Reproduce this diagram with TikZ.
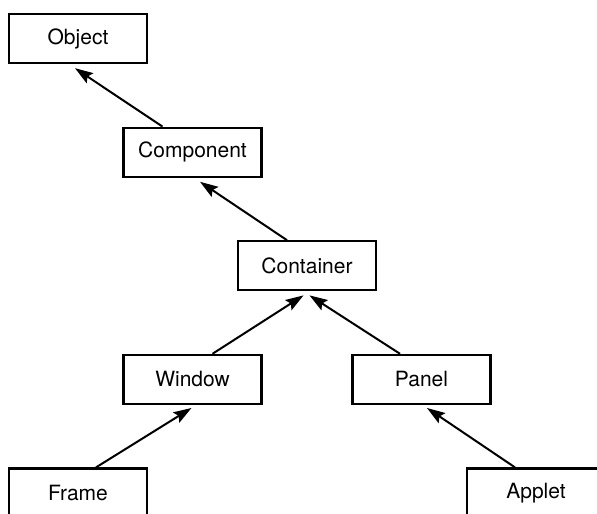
\documentclass[tikz,border=0pt]{standalone}
\usepackage{fontspec}
\setmainfont{TeX Gyre Heros}
\usepackage{tikz}
\usetikzlibrary{arrows.meta}
\tikzstyle{classbox}=[rectangle,draw=black,line width=2.2pt,fill=white,minimum width=138pt,minimum height=49pt,inner sep=0pt,font=\fontsize{21}{25}\selectfont]
\tikzstyle{edge} = [draw,line width=2pt,-{Stealth[length=18pt,width=12pt,inset=3pt]}]

\begin{document}
\begin{tikzpicture}[x=1pt,y=1pt]

  \def\dx{78};
  \def\dy{21};
  \def\u{114.5};
  \def\v{113.6};

  \useasboundingbox (0,0) rectangle (597,514);

   \foreach \x/\y/\name/\label in {0/4/object/Object, 1/3/component/Component, 2/2/container/Container}
          \node[classbox] (\name) at (\x*\u+\dx, \y*\v+\dy) {\label};

   \foreach \x/\y/\name/\label in {1/1/window/Window, 3/1/panel/Panel}
          \node[classbox] (\name) at (\x*\u+\dx, \y*\v+\dy) {\label};

   \foreach \x/\y/\name/\label in {0/0/frame/Frame, 4/0/applet/Applet}
          \node[classbox] (\name) at (\x*\u+\dx, \y*\v+\dy) {\label};

  \foreach \source/\sx/\dest/\tx in {component/-30/object/-3, container/-20/component/7.5}
         \path[edge] ([xshift=\sx pt]\source.north) -- ([xshift=\tx pt,yshift=-4pt]\dest.south);

  \foreach \source/\sx/\dest/\tx in {window/20/container/-3.5, panel/-21.5/container/2.5}
         \path[edge] ([xshift=\sx pt]\source.north) -- ([xshift=\tx pt,yshift=-4pt]\dest.south);

  \foreach \source/\sx/\dest/\tx in {frame/18/window/-1, applet/-21/panel/5.5}
         \path[edge] ([xshift=\sx pt]\source.north) -- ([xshift=\tx pt,yshift=-3pt]\dest.south);

\end{tikzpicture}
\end{document}
